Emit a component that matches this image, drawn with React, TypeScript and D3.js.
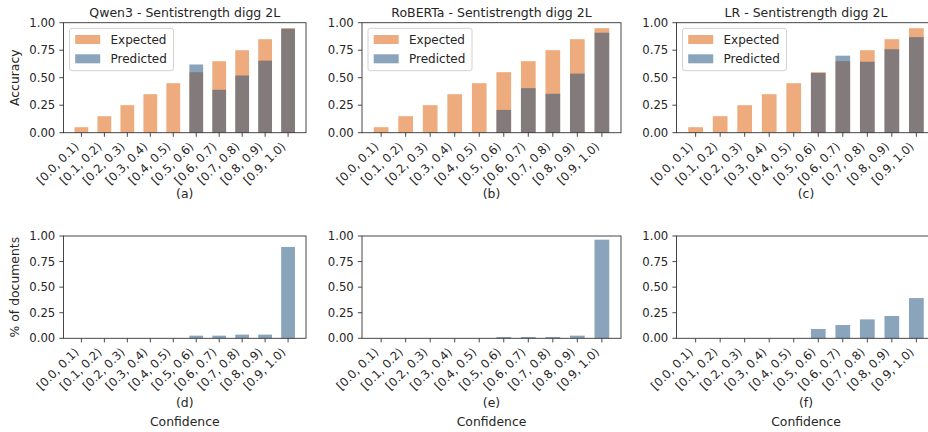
import * as d3 from 'd3';

const BINS = [
  '[0.0, 0.1)',
  '[0.1, 0.2)',
  '[0.2, 0.3)',
  '[0.3, 0.4)',
  '[0.4, 0.5)',
  '[0.5, 0.6)',
  '[0.6, 0.7)',
  '[0.7, 0.8)',
  '[0.8, 0.9)',
  '[0.9, 1.0)',
];

const EXPECTED = [0.05, 0.15, 0.25, 0.35, 0.45, 0.55, 0.65, 0.75, 0.85, 0.95];

// accuracy per confidence bin (null = no documents in that bin)
const QWEN_ACC = [null, null, null, null, null, 0.62, 0.39, 0.52, 0.655, 0.945];
const ROBERTA_ACC = [null, null, null, null, null, 0.207, 0.405, 0.354, 0.537, 0.909];
const LR_ACC = [null, null, null, null, null, 0.543, 0.70, 0.645, 0.759, 0.869];

// share of documents per confidence bin
const QWEN_SHARE = [0, 0, 0, 0, 0, 0.026, 0.026, 0.036, 0.036, 0.893];
const ROBERTA_SHARE = [0, 0, 0, 0, 0, 0.013, 0.013, 0.013, 0.026, 0.964];
const LR_SHARE = [0, 0, 0, 0, 0, 0.091, 0.13, 0.185, 0.218, 0.393];

const TITLES = [
  'Qwen3 - Sentistrength digg 2L',
  'RoBERTa - Sentistrength digg 2L',
  'LR - Sentistrength digg 2L',
];
const TOP_LETTERS = ['(a)', '(b)', '(c)'];
const BOTTOM_LETTERS = ['(d)', '(e)', '(f)'];
const Y_TICKS = [0, 0.25, 0.5, 0.75, 1];

const FONT = '"DejaVu Sans", sans-serif';
const EXPECTED_COLOR = '#eeab7d';
const PRED_COLOR = '#154979';
const PRED_ALPHA = 0.5;
const TICK_SIZE = 11.7;

const COLUMNS = [
  { left: 63.5, right: 306 },
  { left: 362, right: 621 },
  { left: 676.5, right: 935.5 },
];
const TOP_ROW = { top: 22.7, bottom: 132.7, letterY: 65 };
const BOTTOM_ROW = { top: 236, bottom: 338.3, letterY: 68.5 };

type PanelProps = {
  left: number;
  right: number;
  top: number;
  bottom: number;
  letterY: number;
  values: (number | null)[];
  expected?: number[];
  title?: string;
  letter: string;
  yLabel?: string;
  xLabel?: string;
  legend?: boolean;
};

function Panel({ left, right, top, bottom, letterY, values, expected, title, letter, yLabel, xLabel, legend }: PanelProps) {
  const x = d3.scaleLinear().domain([-0.78, 9.78]).range([left, right]);
  const y = d3.scaleLinear().domain([0, 1]).range([bottom, top]);
  const tickLen = 4.1;
  const labelTop = bottom + tickLen * 2;
  const a = 0.76 * TICK_SIZE;
  const d = 0.236 * TICK_SIZE;
  const cx = (left + right) / 2;

  return (
    <g fontFamily={FONT} fill="#262626">
      {expected &&
        expected.map((v, i) => (
          <rect
            key={`e${i}`}
            x={x(i - 0.3)}
            width={x(i + 0.3) - x(i - 0.3)}
            y={y(v)}
            height={y(0) - y(v)}
            fill={EXPECTED_COLOR}
          />
        ))}
      {values.map((v, i) =>
        v == null || v <= 0 ? null : (
          <rect
            key={`p${i}`}
            x={x(i - 0.3)}
            width={x(i + 0.3) - x(i - 0.3)}
            y={y(v)}
            height={y(0) - y(v)}
            fill={PRED_COLOR}
            fillOpacity={PRED_ALPHA}
          />
        )
      )}
      <rect
        x={left}
        y={top}
        width={right - left}
        height={bottom - top}
        fill="none"
        stroke="#333"
        strokeWidth={0.9}
      />
      {Y_TICKS.map((t) => (
        <g key={t}>
          <line x1={left - tickLen} x2={left} y1={y(t)} y2={y(t)} stroke="#333" strokeWidth={0.9} />
          <text
            x={left - tickLen * 2}
            y={y(t)}
            textAnchor="end"
            dominantBaseline="central"
            fontSize={TICK_SIZE}
          >
            {d3.format('.2f')(t)}
          </text>
        </g>
      ))}
      {BINS.map((b, i) => (
        <g key={b}>
          <line x1={x(i)} x2={x(i)} y1={bottom} y2={bottom + tickLen} stroke="#333" strokeWidth={0.9} />
          <text
            transform={`translate(${x(i) - 0.707 * d},${labelTop + 0.707 * a}) rotate(-45)`}
            textAnchor="end"
            fontSize={TICK_SIZE}
          >
            {b}
          </text>
        </g>
      ))}
      {title && (
        <text x={cx} y={17} textAnchor="middle" fontSize={12.5}>
          {title}
        </text>
      )}
      <text x={cx} y={bottom + letterY} textAnchor="middle" fontSize={12.4}>
        {letter}
      </text>
      {xLabel && (
        <text x={cx} y={bottom + 88} textAnchor="middle" fontSize={12.4}>
          {xLabel}
        </text>
      )}
      {yLabel && (
        <text
          transform={`translate(14.5,${(top + bottom) / 2}) rotate(-90)`}
          textAnchor="middle"
          dominantBaseline="central"
          fontSize={12.4}
        >
          {yLabel}
        </text>
      )}
      {legend && (
        <g transform={`translate(${left + 6},${top + 5.6})`}>
          <rect width={104} height={42.4} rx={2.5} fill="#fff" fillOpacity={0.8} stroke="#cccccc" strokeWidth={0.9} />
          <rect x={5.7} y={6.7} width={25} height={9} fill={EXPECTED_COLOR} />
          <rect x={5.7} y={26} width={25} height={9} fill={PRED_COLOR} fillOpacity={PRED_ALPHA} />
          <text x={41} y={11.4} dominantBaseline="central" fontSize={12}>
            Expected
          </text>
          <text x={41} y={30.5} dominantBaseline="central" fontSize={12}>
            Predicted
          </text>
        </g>
      )}
    </g>
  );
}

export default function App() {
  const accuracy = [QWEN_ACC, ROBERTA_ACC, LR_ACC];
  const shares = [QWEN_SHARE, ROBERTA_SHARE, LR_SHARE];
  return (
    <svg
      width={928}
      height={432}
      style={{ position: 'absolute', left: 0, top: 0, background: '#fff' }}
    >
      {COLUMNS.map((c, i) => (
        <Panel
          key={`top${i}`}
          left={c.left}
          right={c.right}
          top={TOP_ROW.top}
          bottom={TOP_ROW.bottom}
          letterY={TOP_ROW.letterY}
          values={accuracy[i]}
          expected={EXPECTED}
          title={TITLES[i]}
          letter={TOP_LETTERS[i]}
          yLabel={i === 0 ? 'Accuracy' : undefined}
          legend
        />
      ))}
      {COLUMNS.map((c, i) => (
        <Panel
          key={`bottom${i}`}
          left={c.left}
          right={c.right}
          top={BOTTOM_ROW.top}
          bottom={BOTTOM_ROW.bottom}
          letterY={BOTTOM_ROW.letterY}
          values={shares[i]}
          letter={BOTTOM_LETTERS[i]}
          xLabel="Confidence"
          yLabel={i === 0 ? '% of documents' : undefined}
        />
      ))}
    </svg>
  );
}
